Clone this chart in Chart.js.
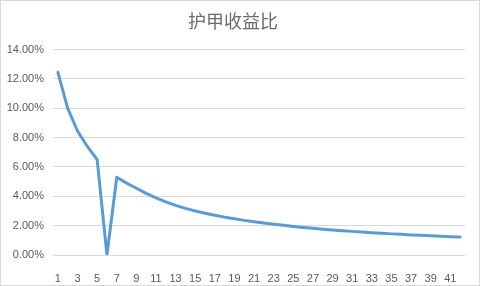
<!DOCTYPE html>
<html>
<head>
<meta charset="utf-8">
<script src="https://cdn.jsdelivr.net/npm/chart.js@4/dist/chart.umd.min.js"></script>
<style>
  html, body { margin: 0; padding: 0; background: #fff; }
  #wrap { width: 480px; height: 286px; box-sizing: border-box; border: 1px solid #d9d9d9; }
  canvas { display: block; }
</style>
</head>
<body>
<div id="wrap"><canvas id="armorChart" width="478" height="284"></canvas></div>
<script>
// data (percent values)
var chartTitle = '护甲收益比';
var levels = [];
for (var i = 1; i <= 42; i++) levels.push(String(i));
var ratioValues = [
  12.45, 10.0, 8.45, 7.4, 6.5, 0.0, 5.3, 4.9, 4.55, 4.2,
  3.9, 3.62, 3.38, 3.18, 3.0, 2.85, 2.71, 2.58, 2.47, 2.36,
  2.27, 2.18, 2.1, 2.02, 1.95, 1.88, 1.82, 1.76, 1.71, 1.66,
  1.61, 1.56, 1.52, 1.48, 1.44, 1.41, 1.37, 1.34, 1.31, 1.28,
  1.25, 1.22
];
var yMin = 0, yMax = 14, yStep = 2;

var textColor = '#595959';
var gridColor = '#d9d9d9';
var labelFont = { family: "'Liberation Sans', Arial, sans-serif", size: 11 };

var ctx = document.getElementById('armorChart').getContext('2d');
var armorChart = new Chart(ctx, {
    type: 'line',
    data: {
        labels: levels,
        datasets: [{
            label: chartTitle,
            data: ratioValues,
            borderColor: '#5b9bd5',
            borderWidth: 3,
            pointRadius: 0,
            tension: 0,
            borderJoinStyle: 'round',
            borderCapStyle: 'round',
        }],
    },
    options: {
        responsive: false,
        animation: false,
        layout: { padding: { left: 0, right: 14, top: 0, bottom: 0 } },
        plugins: {
            legend: { display: false },
            tooltip: { enabled: false },
            title: {
                display: true,
                text: chartTitle,
                color: '#6b6b6b',
                font: { family: "'Noto Sans CJK SC', sans-serif", size: 18, weight: 'normal' },
                padding: { top: 9, bottom: 18 },
            },
        },
        scales: {
            x: {
                offset: true,
                grid: { display: false },
                border: { display: false },
                ticks: {
                    color: textColor,
                    font: labelFont,
                    autoSkip: false,
                    maxRotation: 0,
                    padding: 9,
                    callback: function (value, index) {
                        return index % 2 === 0 ? this.getLabelForValue(value) : '';
                    },
                },
                afterFit: function (scale) { scale.height = 30; },
            },
            y: {
                min: yMin,
                max: yMax,
                grid: { color: gridColor, drawTicks: false },
                border: { display: false },
                ticks: {
                    stepSize: yStep,
                    color: textColor,
                    font: labelFont,
                    padding: 9,
                    callback: function (value) { return value.toFixed(2) + '%'; },
                },
                afterFit: function (scale) { scale.width = 52; },
            },
        },
    },
});
</script>
</body>
</html>
